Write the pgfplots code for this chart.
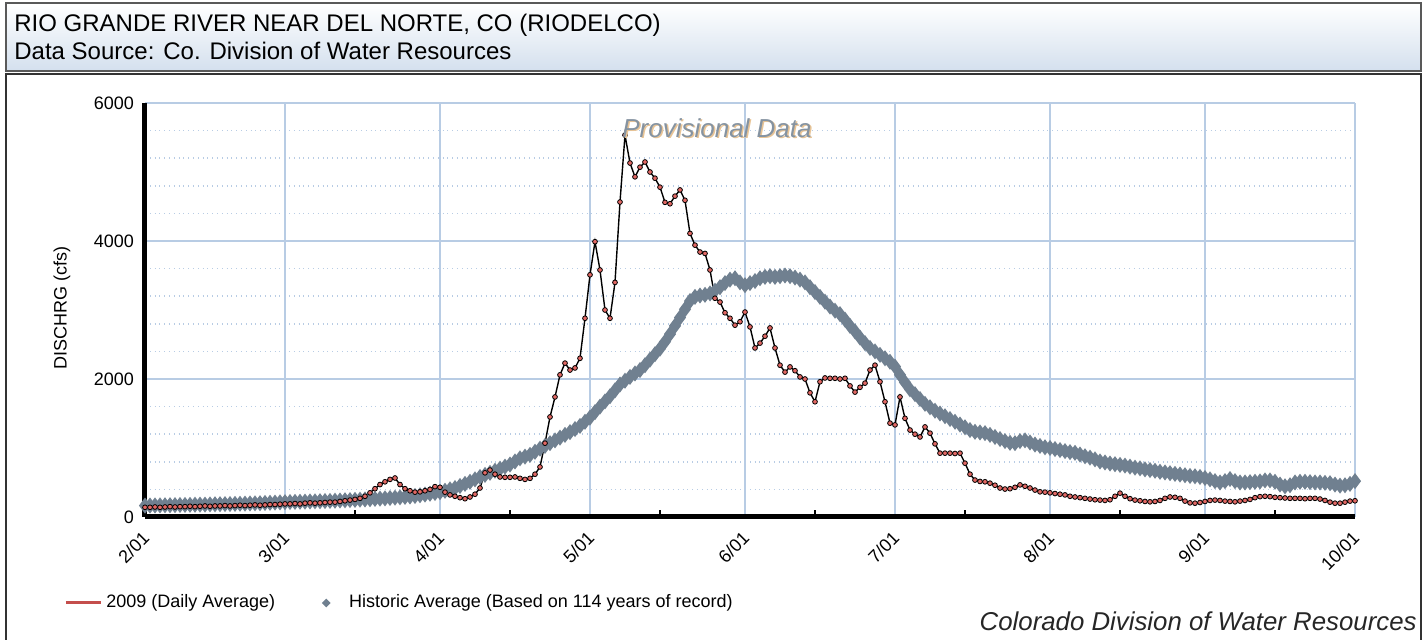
\documentclass[border=0pt]{standalone}
\usepackage{pgfplots}
\usepackage{pgfplotstable}
\pgfplotsset{compat=1.18}
\usepackage{fontspec}
\setmainfont{Liberation Sans}
\usetikzlibrary{shapes.geometric}

\definecolor{gridblue}{RGB}{184,204,228}
\definecolor{histgray}{RGB}{112,128,144}
\definecolor{dayred}{RGB}{226,104,100}
\definecolor{legred}{RGB}{196,78,76}
\definecolor{headblue}{RGB}{212,224,238}

% day 0 = Feb 1, day 242 = Oct 1
\pgfplotstableread[row sep=\\]{
d v\\
0 140\\ 1 140\\ 2 145\\ 3 140\\ 4 145\\ 5 150\\ 6 145\\ 7 150\\ 8 150\\ 9 155\\
10 150\\ 11 155\\ 12 160\\ 13 155\\ 14 160\\ 15 160\\ 16 165\\ 17 160\\ 18 165\\ 19 170\\
20 165\\ 21 170\\ 22 175\\ 23 170\\ 24 175\\ 25 180\\ 26 180\\ 27 185\\ 28 190\\ 29 190\\
30 195\\ 31 190\\ 32 200\\ 33 205\\ 34 200\\ 35 205\\ 36 210\\ 37 215\\ 38 215\\ 39 225\\
40 235\\ 41 245\\ 42 255\\ 43 270\\ 44 300\\ 45 350\\ 46 410\\ 47 470\\ 48 510\\ 49 545\\
50 565\\ 51 470\\ 52 410\\ 53 380\\ 54 360\\ 55 365\\ 56 380\\ 57 400\\ 58 440\\ 59 430\\
60 360\\ 61 320\\ 62 300\\ 63 280\\ 64 265\\ 65 290\\ 66 330\\ 67 420\\ 68 640\\ 69 680\\
70 620\\ 71 580\\ 72 575\\ 73 575\\ 74 580\\ 75 560\\ 76 545\\ 77 560\\ 78 620\\ 79 725\\
80 1070\\ 81 1450\\ 82 1740\\ 83 2060\\ 84 2230\\ 85 2130\\ 86 2160\\ 87 2300\\ 88 2880\\ 89 3510\\
90 3990\\ 91 3580\\ 92 3000\\ 93 2880\\ 94 3400\\ 95 4565\\ 96 5535\\ 97 5130\\ 98 4930\\ 99 5070\\
100 5145\\ 101 5000\\ 102 4910\\ 103 4780\\ 104 4560\\ 105 4540\\ 106 4650\\ 107 4740\\ 108 4590\\ 109 4110\\
110 3940\\ 111 3840\\ 112 3820\\ 113 3580\\ 114 3170\\ 115 3115\\ 116 2960\\ 117 2880\\ 118 2780\\ 119 2830\\
120 2970\\ 121 2755\\ 122 2450\\ 123 2520\\ 124 2620\\ 125 2740\\ 126 2450\\ 127 2200\\ 128 2100\\ 129 2175\\
130 2120\\ 131 2030\\ 132 2000\\ 133 1800\\ 134 1670\\ 135 1960\\ 136 2015\\ 137 2010\\ 138 2010\\ 139 2000\\
140 2010\\ 141 1900\\ 142 1810\\ 143 1880\\ 144 1940\\ 145 2130\\ 146 2200\\ 147 1960\\ 148 1670\\ 149 1360\\
150 1335\\ 151 1740\\ 152 1430\\ 153 1260\\ 154 1200\\ 155 1160\\ 156 1305\\ 157 1215\\ 158 1060\\ 159 925\\
160 925\\ 161 925\\ 162 920\\ 163 925\\ 164 780\\ 165 620\\ 166 535\\ 167 515\\ 168 510\\ 169 490\\
170 460\\ 171 420\\ 172 405\\ 173 410\\ 174 430\\ 175 465\\ 176 445\\ 177 420\\ 178 390\\ 179 365\\
180 360\\ 181 350\\ 182 340\\ 183 330\\ 184 320\\ 185 300\\ 186 290\\ 187 280\\ 188 270\\ 189 260\\
190 250\\ 191 245\\ 192 240\\ 193 250\\ 194 300\\ 195 345\\ 196 300\\ 197 265\\ 198 245\\ 199 235\\
200 225\\ 201 220\\ 202 225\\ 203 240\\ 204 270\\ 205 290\\ 206 285\\ 207 270\\ 208 230\\ 209 205\\
210 200\\ 211 210\\ 212 225\\ 213 240\\ 214 245\\ 215 240\\ 216 230\\ 217 225\\ 218 220\\ 219 230\\
220 240\\ 221 255\\ 222 280\\ 223 295\\ 224 300\\ 225 295\\ 226 285\\ 227 280\\ 228 275\\ 229 270\\
230 270\\ 231 270\\ 232 265\\ 233 270\\ 234 270\\ 235 260\\ 236 240\\ 237 215\\ 238 200\\ 239 200\\
240 215\\ 241 230\\ 242 235\\
}\dailytab

\pgfplotstableread[row sep=\\]{
d v\\
0 165\\ 1 166\\ 2 167\\ 3 168\\ 4 170\\ 5 171\\ 6 172\\ 7 174\\ 8 175\\ 9 176\\
10 178\\ 11 179\\ 12 180\\ 13 182\\ 14 184\\ 15 185\\ 16 187\\ 17 188\\ 18 190\\ 19 192\\
20 194\\ 21 196\\ 22 198\\ 23 200\\ 24 203\\ 25 206\\ 26 209\\ 27 212\\ 28 215\\ 29 217\\
30 219\\ 31 221\\ 32 223\\ 33 225\\ 34 227\\ 35 229\\ 36 231\\ 37 233\\ 38 236\\ 39 239\\
40 242\\ 41 245\\ 42 248\\ 43 251\\ 44 254\\ 45 258\\ 46 262\\ 47 266\\ 48 270\\ 49 275\\
50 280\\ 51 285\\ 52 291\\ 53 297\\ 54 305\\ 55 315\\ 56 325\\ 57 337\\ 58 348\\ 59 360\\
60 380\\ 61 400\\ 62 420\\ 63 450\\ 64 480\\ 65 510\\ 66 545\\ 67 580\\ 68 610\\ 69 640\\
70 670\\ 71 700\\ 72 730\\ 73 760\\ 74 805\\ 75 850\\ 76 875\\ 77 900\\ 78 945\\ 79 990\\
80 1030\\ 81 1070\\ 82 1110\\ 83 1150\\ 84 1190\\ 85 1230\\ 86 1275\\ 87 1320\\ 88 1380\\ 89 1440\\
90 1520\\ 91 1600\\ 92 1675\\ 93 1750\\ 94 1835\\ 95 1920\\ 96 1975\\ 97 2030\\ 98 2080\\ 99 2130\\
100 2200\\ 101 2280\\ 102 2360\\ 103 2440\\ 104 2540\\ 105 2650\\ 106 2770\\ 107 2890\\ 108 3010\\ 109 3130\\
110 3190\\ 111 3210\\ 112 3220\\ 113 3240\\ 114 3280\\ 115 3330\\ 116 3390\\ 117 3440\\ 118 3460\\ 119 3400\\
120 3360\\ 121 3390\\ 122 3420\\ 123 3460\\ 124 3480\\ 125 3490\\ 126 3480\\ 127 3490\\ 128 3500\\ 129 3490\\
130 3470\\ 131 3440\\ 132 3400\\ 133 3330\\ 134 3260\\ 135 3190\\ 136 3120\\ 137 3050\\ 138 2990\\ 139 2940\\
140 2860\\ 141 2770\\ 142 2690\\ 143 2600\\ 144 2520\\ 145 2450\\ 146 2400\\ 147 2350\\ 148 2300\\ 149 2250\\
150 2180\\ 151 2060\\ 152 1950\\ 153 1850\\ 154 1780\\ 155 1710\\ 156 1640\\ 157 1590\\ 158 1540\\ 159 1500\\
160 1460\\ 161 1420\\ 162 1380\\ 163 1340\\ 164 1300\\ 165 1260\\ 166 1235\\ 167 1225\\ 168 1215\\ 169 1190\\
170 1160\\ 171 1130\\ 172 1100\\ 173 1075\\ 174 1070\\ 175 1100\\ 176 1110\\ 177 1080\\ 178 1050\\ 179 1030\\
180 1010\\ 181 1000\\ 182 985\\ 183 970\\ 184 955\\ 185 940\\ 186 930\\ 187 905\\ 188 880\\ 189 860\\
190 835\\ 191 805\\ 192 790\\ 193 775\\ 194 765\\ 195 755\\ 196 745\\ 197 730\\ 198 715\\ 199 705\\
200 690\\ 201 680\\ 202 670\\ 203 655\\ 204 645\\ 205 635\\ 206 625\\ 207 615\\ 208 605\\ 209 595\\
210 590\\ 211 580\\ 212 565\\ 213 545\\ 214 520\\ 215 500\\ 216 520\\ 217 550\\ 218 520\\ 219 500\\
220 500\\ 221 505\\ 222 510\\ 223 515\\ 224 530\\ 225 530\\ 226 510\\ 227 470\\ 228 445\\ 229 460\\
230 500\\ 231 510\\ 232 510\\ 233 505\\ 234 500\\ 235 500\\ 236 495\\ 237 490\\ 238 470\\ 239 455\\
240 460\\ 241 480\\ 242 520\\
}\histtab

\begin{document}
\begin{tikzpicture}[x=0.5pt,y=0.5pt]
\useasboundingbox (0,0) rectangle (1426,640);
% header band and frame (pixel units, y measured from the bottom)
\shade[top color=white, bottom color=headblue] (6,637) rectangle (1421,569);
\draw[black!65, line width=0.6pt] (6,637) rectangle (1421,569);
\draw[black!80, line width=0.8pt] (6,-5) -- (6,566) -- (1421,566) -- (1421,-5);
\node[anchor=base west, inner sep=0pt, font=\fontsize{12}{14}\selectfont] at (14,608) {RIO GRANDE RIVER NEAR DEL NORTE, CO (RIODELCO)};
\node[anchor=base west, inner sep=0pt, font=\fontsize{12}{14}\selectfont] at (14,580) {Data Source: Co. Division of Water Resources};

\begin{axis}[
    at={(72.5pt,61.5pt)}, anchor=south west,
    scale only axis, width=605pt, height=207pt,
    xmin=0, xmax=242, ymin=0, ymax=6000,
    axis x line=bottom, axis y line=left,
    axis line style={-, line width=2.5pt, black},
    xtick={0,28,59,89,120,150,181,212,242},
    xticklabels={2/01,3/01,4/01,5/01,6/01,7/01,8/01,9/01,10/01},
    minor xtick={42,73,103,134,164,195,226},
    ytick={0,2000,4000,6000},
    yticklabels={0,2000,4000,6000},
    minor ytick={400,800,1200,1600,2400,2800,3200,3600,4400,4800,5200,5600},
    xmajorgrids, ymajorgrids, yminorgrids,
    major grid style={gridblue, line width=0.8pt},
    minor grid style={gridblue, dotted, line width=0.8pt},
    major tick length=0pt,
    tick align=inside, minor tick length=3.5pt,
    minor x tick style={black, line width=0.8pt},
    minor y tick style={draw=none},
    tick label style={font=\fontsize{9}{10}\selectfont},
    xticklabel style={xshift=3pt, yshift=-6.5pt, rotate=45, anchor=east},
    yticklabel style={xshift=-2pt},
    ylabel={DISCHRG (cfs)},
    ylabel style={at={(axis description cs:-0.0686,0.505)}, anchor=center, font=\fontsize{9}{10}\selectfont},
    legend columns=2,
    legend style={draw=none, fill=none, at={(-0.0669,-0.2077)}, anchor=west,
        font=\fontsize{9}{10}\selectfont, inner sep=0pt,
        /tikz/every even column/.append style={column sep=20pt}},
    clip=false,
]
\addlegendimage{legend image code/.code={\draw[legred, line width=1.5pt] (0pt,0pt) -- (17.5pt,0pt);}}
\addlegendentry{2009 (Daily Average)}
\addlegendimage{draw=none, legend image code/.code={\path[draw=none] (0pt,0pt) -- (13pt,0pt); \node[draw=none, diamond, fill=histgray, inner sep=0pt, minimum size=4.5pt] at (3.5pt,0pt) {};}}
\addlegendentry{Historic Average (Based on 114 years of record)}

\addplot[histgray, line width=2.8pt, mark=diamond*, mark size=1.7pt, mark options={solid, fill=histgray}, forget plot] table[x=d, y=v] {\histtab};
\addplot[only marks, mark=*, mark size=1.2pt, mark options={draw=none, fill=dayred}, forget plot] table[x=d, y=v] {\dailytab};
\addplot[black, line width=0.7pt, forget plot] table[x=d, y=v] {\dailytab};
\end{axis}

\node[font=\itshape\fontsize{13}{14}\selectfont, text={rgb,255:red,232;green,196;blue,150}] at (718.5,510.5) {Provisional Data};
\node[font=\itshape\fontsize{13}{14}\selectfont, text=histgray!85] at (717,512) {Provisional Data};
\node[anchor=base east, inner sep=0pt, font=\itshape\fontsize{12.9}{14}\selectfont, text=black!85] at (1417,9) {Colorado Division of Water Resources};
\end{tikzpicture}
\end{document}
